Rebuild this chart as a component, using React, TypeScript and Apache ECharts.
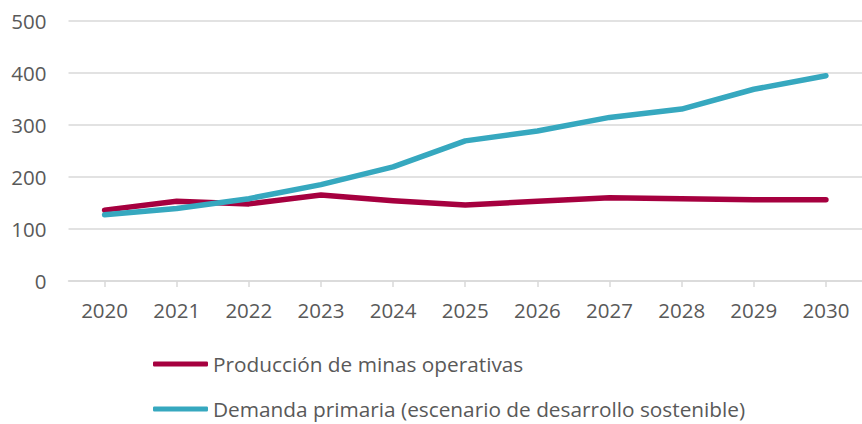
import React, { useEffect, useRef } from "react";
import * as echarts from "echarts";

const years = ["2020", "2021", "2022", "2023", "2024", "2025", "2026", "2027", "2028", "2029", "2030"];
const produccion = [136, 153, 148, 165, 154, 146, 153, 160, 158, 156, 156];
const demanda = [127, 139, 158, 185, 219, 269, 288, 314, 330, 368, 394];
const seriesNames = ["Producción de minas operativas", "Demanda primaria (escenario de desarrollo sostenible)"];
const colors = ["#A6003F", "#36A8BF"];

const FONT = "'Open Sans', 'Noto Sans', sans-serif";
const TEXT = "#595959";
const GRID = "#D9D9D9";

export default function App() {
  const ref = useRef<HTMLDivElement>(null);
  useEffect(() => {
    document.body.style.margin = "0";
    const chart = echarts.init(ref.current!, null, { renderer: "svg" });
    const step = 72.93;
    const legendBase = {
      orient: "horizontal",
      left: 153,
      padding: 0,
      itemWidth: 55,
      itemHeight: 5,
      icon: "roundRect",
      textStyle: { color: TEXT, fontSize: 20.8, fontFamily: FONT, lineHeight: 24 },
    };
    chart.setOption({
      animation: false,
      backgroundColor: "#ffffff",
      textStyle: { fontFamily: FONT },
      grid: { left: 68.5, top: 20.5, width: step * years.length, height: 260.5, containLabel: false },
      xAxis: {
        type: "category",
        data: years,
        boundaryGap: true,
        axisLine: { lineStyle: { color: GRID, width: 1.5 } },
        axisTick: { show: true, alignWithLabel: true, length: 6, lineStyle: { color: GRID, width: 1.5 } },
        axisLabel: { color: TEXT, fontSize: 20.5, fontFamily: FONT, margin: 18 },
        splitLine: { show: false },
      },
      yAxis: {
        type: "value",
        min: 0,
        max: 500,
        interval: 100,
        axisLine: { show: false },
        axisTick: { show: false },
        axisLabel: { color: TEXT, fontSize: 20.5, fontFamily: FONT, margin: 22 },
        splitLine: { lineStyle: { color: GRID, width: 1.5 } },
      },
      legend: [
        { ...legendBase, top: 352, data: [seriesNames[0]] },
        { ...legendBase, top: 397, data: [seriesNames[1]] },
      ],
      series: [
        {
          name: seriesNames[0],
          type: "line",
          data: produccion,
          showSymbol: false,
          symbol: "none",
          lineStyle: { color: colors[0], width: 5.5, cap: "round", join: "round" },
          itemStyle: { color: colors[0] },
        },
        {
          name: seriesNames[1],
          type: "line",
          data: demanda,
          showSymbol: false,
          symbol: "none",
          lineStyle: { color: colors[1], width: 5.5, cap: "round", join: "round" },
          itemStyle: { color: colors[1] },
        },
      ],
    });
    return () => chart.dispose();
  }, []);
  return <div ref={ref} style={{ width: 862, height: 424 }} />;
}
